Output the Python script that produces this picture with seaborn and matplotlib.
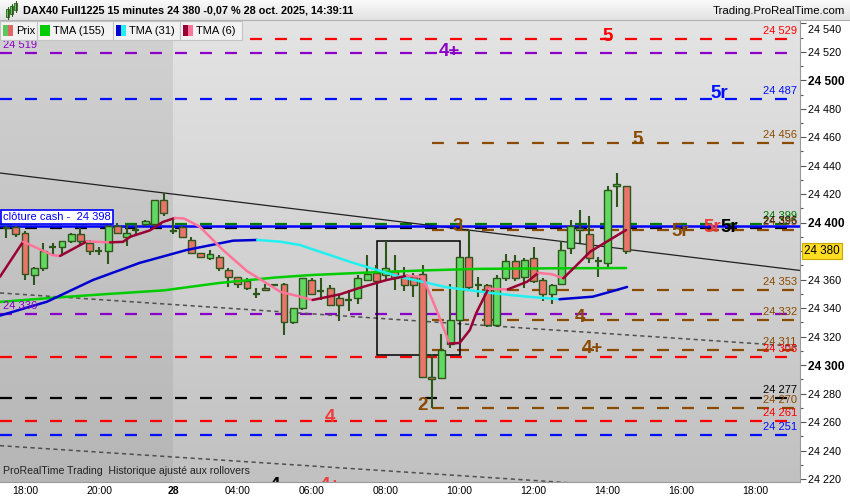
import numpy as np
import pandas as pd
import seaborn as sns
import matplotlib.pyplot as plt
import matplotlib.transforms as mtransforms
from matplotlib.patches import Rectangle

# 15 minute bars, index 0 = 18:00 on the 27th
bar_idx = list(range(-2, 66))
opens = [24396, 24397, 24393, 24363, 24368, 24383, 24383, 24387, 24392, 24386,
         24380, 24380, 24398, 24390, 24395, 24399, 24399, 24416, 24395, 24397,
         24388, 24379, 24375, 24376, 24367, 24362, 24359, 24350, 24354, 24356,
         24357, 24330, 24340, 24360, 24352, 24354, 24347, 24346, 24347, 24360,
         24365, 24363, 24366, 24362, 24362, 24364, 24292, 24291, 24315, 24332,
         24376, 24356, 24356, 24328, 24361, 24373, 24362, 24375, 24360, 24350,
         24357, 24382, 24396, 24392, 24373, 24372, 24425.6, 24426]
highs = [24398, 24398, 24394, 24369, 24386, 24386, 24387, 24393, 24396, 24388,
         24383, 24400, 24400, 24399, 24400, 24402, 24416, 24421, 24402, 24398,
         24390, 24379, 24381, 24377, 24368, 24362, 24361, 24354, 24357, 24357,
         24358, 24340, 24361, 24361, 24361, 24356, 24349, 24353, 24363, 24377,
         24370, 24387, 24377, 24369, 24365, 24370, 24308, 24322, 24357, 24376,
         24395, 24362, 24357, 24363, 24378, 24377, 24375, 24383, 24361, 24357,
         24387, 24402, 24409, 24405, 24376, 24426, 24435, 24426]
lows = [24389, 24390, 24360, 24356, 24366, 24377, 24377, 24386, 24384, 24377,
        24377, 24371, 24392, 24384, 24391, 24398, 24398, 24405, 24392, 24389,
        24378, 24376, 24374, 24366, 24355, 24354, 24353, 24347, 24352, 24356,
        24321, 24329, 24339, 24350, 24346, 24342, 24331, 24338, 24343, 24359,
        24358, 24360, 24353, 24352, 24348, 24291, 24270, 24290, 24312, 24330,
        24352, 24348, 24327, 24327, 24359, 24359, 24354, 24358, 24345, 24343,
        24356, 24378, 24386, 24372, 24362, 24369, 24411, 24378]
closes = [24396, 24392, 24364, 24368, 24380, 24383, 24387, 24392, 24387, 24380,
          24380, 24398, 24393, 24393, 24395, 24401, 24416, 24407, 24394, 24390,
          24379, 24376, 24378, 24368, 24362, 24357, 24354, 24350, 24353, 24356,
          24330, 24340, 24361, 24350, 24352, 24342, 24342, 24346, 24361, 24364,
          24359, 24368, 24361, 24356, 24356, 24292, 24290, 24311, 24332, 24376,
          24355, 24356, 24328, 24361, 24373, 24361, 24374, 24359, 24350, 24356,
          24381, 24398, 24395, 24375, 24373, 24423, 24427, 24380]

tick_pos = [0, 8, 16, 23, 31, 39, 47, 55, 63, 71, 79]
tick_labels = ['18:00', '20:00', '28', '04:00', '06:00', '08:00', '10:00',
               '12:00', '14:00', '16:00', '18:00']

tma155_x = [-2.7, 3, 9, 15, 21, 27, 31, 37, 43, 49, 57, 65]
tma155_y = [24344.4, 24347.3, 24350, 24352.5, 24357.7, 24361.5, 24363.3,
            24365, 24366.5, 24367.6, 24368, 24368.2]

tma31_x = [-2.7, 2.4, 7.35, 12.4, 17.5, 22.5, 25.1, 27.6, 29.7, 35.5, 40.5,
           45.6, 50.6, 54.3, 57.8, 61.4, 63.6, 65.1]
tma31_y = [24334.8, 24344.6, 24359.8, 24371.8, 24380.9, 24387.4, 24387.9,
           24386.7, 24384.4, 24371.8, 24362.1, 24354.7, 24350.5, 24348.1,
           24346.3, 24348.1, 24352.1, 24354.9]

tma6_x = [-2.7, -0.2, 3.0, 3.8, 6.7, 9.2, 10.6, 11.4, 13.5, 14.9, 16.2, 17.2,
          18.9, 21.4, 24.0, 27.6, 31.1, 34.1, 35.9, 39.1, 41.3, 43.0, 44.5,
          45.9, 47.0, 48.1, 48.8, 50.1, 52.2, 54.3, 55.5, 57.0, 58.2, 59.5,
          61.1, 62.9, 65.0]
tma6_y = [24362.1, 24386.7, 24377.2, 24376.7, 24386.9, 24386.2, 24386.6,
          24390.2, 24394.6, 24400.5, 24403.3, 24403.0, 24397.2, 24380.9,
          24366.1, 24351.6, 24345.8, 24349.8, 24353.7, 24359.8, 24362.8,
          24361.9, 24338.8, 24315.2, 24315.6, 24324.7, 24336.7, 24353.6,
          24353.2, 24358.6, 24364.8, 24363.8, 24361.0, 24369.2, 24379.6,
          24386.7, 24394.9]

# horizontal levels
level_prices = [24529, 24519, 24487, 24456, 24399, 24396, 24395, 24353, 24336,
                24332, 24311, 24306, 24277, 24270, 24261, 24251]
level_colors = ['red', 'purple', 'blue', 'brown', 'green', 'black', 'brown',
                'brown', 'purple', 'brown', 'brown', 'red', 'black', 'brown',
                'red', 'blue']
level_start = [None, None, None, 44, None, None, 44, 44, None, 44, 44, None,
               None, 44, None, None]

tag_texts = ['5', '4+', '5r', '5', '3', '5r', '5r', '5r', '4', '4+', '2', '4',
             '4', '4+']
tag_x = [63, 45.9, 75.1, 66.2, 46.8, 70.9, 74.3, 76.1, 60, 61.3, 43, 33, 27, 33]
tag_y = [24530.4, 24519.9, 24490.4, 24458.1, 24397, 24393.5, 24396.3, 24396.3,
         24333.8, 24312, 24271.4, 24263, 24215.5, 24215.5]
tag_colors = ['red', 'purple', 'blue', 'brown', 'brown', 'brown', 'red2',
              'black', 'brown', 'brown', 'brown', 'red2', 'black', 'red2']

cash_close = 24398
last_price = 24380

trend_x = [-2.7, 83.8]
trend_solid = [24434.9, 24366.5]
trend_dash1 = [24350.7, 24313.1]
trend_dash2 = [24243.5, 24206.9]

box_x = [38.05, 47.03]
box_y = [24307, 24387]

palette = {'red': '#ff0000', 'red2': '#f03c3c', 'purple': '#8a00c8',
           'blue': '#0010ff', 'brown': '#8a4a00', 'green': '#007a00',
           'black': '#000000'}

sns.set_theme(style='white')
plt.rcParams['font.family'] = ['Liberation Sans', 'DejaVu Sans']
plt.rcParams['lines.scale_dashes'] = False

fig = plt.figure(figsize=(8.5, 5), dpi=100, facecolor='white')
ax = fig.add_axes([0, 18 / 500, 800 / 850, 462 / 500])
ymin, ymax = 24218, 24542.3
xmin, xmax = -2.7, 83.8

# background, darker for the previous day
def grad(top, bot):
    v = np.linspace(top, bot, 256)[:, None, None] / 255.0
    return np.repeat(np.repeat(v, 2, axis=1), 3, axis=2)

ax.imshow(grad(0xd2, 0xb6), extent=[xmin, 15.97, ymin, ymax], aspect='auto', zorder=0)
ax.imshow(grad(0xe4, 0xc1), extent=[15.97, xmax, ymin, ymax], aspect='auto', zorder=0)

# levels
for p, c, s in zip(level_prices, level_colors, level_start):
    x0 = xmin if s is None else s
    ax.plot([x0, xmax], [p, p], color=palette[c], lw=1.6,
            ls=(0, (8.6, 9.4)), zorder=2)
ax.axhline(cash_close, color='#0000ff', lw=1.8, zorder=2.5)

trans = mtransforms.blended_transform_factory(ax.transAxes, ax.transData)
for p, c in zip(level_prices, level_colors):
    txt = f"{p:,}".replace(',', ' ')
    if c == 'purple':
        ax.annotate(txt, xy=(0.004, p), xycoords=trans, xytext=(0, 5.6),
                    textcoords='offset points', ha='left', va='center',
                    fontsize=8, color=palette[c], zorder=6)
    else:
        ax.annotate(txt, xy=(0.996, p), xycoords=trans, xytext=(0, 5.6),
                    textcoords='offset points', ha='right', va='center',
                    fontsize=8, color=palette[c], zorder=6)

# trend lines and box
ax.plot(trend_x, trend_solid, color='#202020', lw=0.9, zorder=2)
ax.plot(trend_x, trend_dash1, color='#505050', lw=1.1, ls=(0, (3, 2.5)), zorder=2)
ax.plot(trend_x, trend_dash2, color='#505050', lw=1.1, ls=(0, (3, 2.5)), zorder=2)
ax.add_patch(Rectangle((box_x[0], box_y[0]), box_x[1] - box_x[0], box_y[1] - box_y[0],
                       fill=False, ec='black', lw=1.1, zorder=3))

# candles
edge = '#2c561a'
ax.vlines(bar_idx, lows, highs, color=edge, lw=1.5, zorder=3)
for i, o, c in zip(bar_idx, opens, closes):
    if abs(c - o) < 0.5:
        ax.hlines(o, i - 0.38, i + 0.38, color=edge, lw=1.6, zorder=4)
        continue
    ax.bar(i, abs(c - o), bottom=min(o, c), width=0.74,
           color='#62d862' if c > o else '#e8746c', edgecolor=edge, lw=1, zorder=4)

# moving averages
def draw_tma(xs, ys, up_col, down_col):
    df = pd.DataFrame({'x': xs, 'y': ys})
    rising = np.diff(df['y'].values) >= 0
    start = 0
    for k in range(1, len(rising) + 1):
        if k == len(rising) or rising[k] != rising[start]:
            seg = df.iloc[start:k + 1]
            sns.lineplot(data=seg, x='x', y='y', ax=ax, sort=False, estimator=None,
                         color=up_col if rising[start] else down_col, lw=1.8,
                         legend=False, zorder=5)
            start = k

sns.lineplot(x=tma155_x, y=tma155_y, ax=ax, color='#00cc00', lw=1.8, zorder=5)
draw_tma(tma31_x, tma31_y, '#0000d0', '#22f0f0')
draw_tma(tma6_x, tma6_y, '#990033', '#ff7499')

for t, x, y, c in zip(tag_texts, tag_x, tag_y, tag_colors):
    ax.text(x, y, t, color=palette[c], fontsize=13.5, fontweight='bold',
            ha='center', va='center', zorder=6, clip_on=True)

ax.annotate('clôture cash -  24 398', xy=(0, cash_close), xycoords=trans,
            xytext=(2, 2.5), textcoords='offset points', ha='left', va='bottom',
            fontsize=8, color='#0000ff', zorder=7,
            bbox=dict(boxstyle='square,pad=0.18', fc='white', ec='#0000ff', lw=1.2))

ax.text(0.004, 0.012, 'ProRealTime Trading  Historique ajusté aux rollovers',
        transform=ax.transAxes, fontsize=7.6, color='#222222', ha='left',
        va='bottom', zorder=7)

# axes
ax.set_xlim(xmin, xmax)
ax.set_ylim(ymin, ymax)
ax.set_xlabel('')
ax.set_ylabel('')
ax.yaxis.tick_right()
yt = list(range(24220, 24541, 20))
ax.set_yticks(yt, ['' if v == last_price else f"{v:,}".replace(',', ' ') for v in yt])
ax.set_yticks(list(range(24230, 24541, 20)), minor=True)
ax.tick_params(axis='y', which='major', right=True, length=4, width=0.8,
               color='#555555', pad=2, labelsize=7.8, labelcolor='black')
ax.tick_params(axis='y', which='minor', right=True, length=2.5, width=0.8,
               color='#555555')
for lab, v in zip(ax.get_yticklabels(), yt):
    if v % 100 == 0:
        lab.set_fontweight('bold')
        lab.set_fontsize(8.6)
    if v == yt[-1]:
        # top label sits a little lower, as in the terminal
        lab.set_transform(lab.get_transform() +
                          mtransforms.ScaledTranslation(0, -4 / 72, fig.dpi_scale_trans))
ax.set_xticks(tick_pos, tick_labels)
ax.tick_params(axis='x', length=0, pad=3, labelsize=7.5, labelcolor='black')
for lab in ax.get_xticklabels():
    if lab.get_text() == '28':
        lab.set_fontweight('bold')
for side in ['top', 'left']:
    ax.spines[side].set_visible(False)
for side in ['right', 'bottom']:
    ax.spines[side].set_color('#9a9a9a')
    ax.spines[side].set_linewidth(0.8)

ax.annotate(f"{last_price:,}".replace(',', ' '), xy=(1, last_price), xycoords=trans,
            xytext=(3, 0), textcoords='offset points', ha='left', va='center',
            fontsize=8.4, color='black', annotation_clip=False, zorder=8,
            bbox=dict(boxstyle='square,pad=0.15', fc='#ffdd22', ec='#c8a800', lw=0.8))

# chrome: title bar and legend boxes in pixel coordinates
ov = fig.add_axes([0, 0, 1, 1], zorder=20)
ov.set_xlim(0, 850)
ov.set_ylim(500, 0)
ov.axis('off')
ov.patch.set_visible(False)
ov.imshow(grad(0xfa, 0xe2), extent=[0, 850, 20, 0], aspect='auto', zorder=0)
ov.plot([0, 850], [20, 20], color='#b0b0b0', lw=0.8)
for cx, y0, y1 in [(8, 9, 17), (12, 6, 14), (16, 3, 10)]:
    ov.plot([cx, cx], [y0 - 2, y1 + 2], color='#2c561a', lw=0.8)
    ov.add_patch(Rectangle((cx - 1.5, y0), 3, y1 - y0, fc='#62d862', ec='#2c561a', lw=0.6))
ov.text(23, 10.5, 'DAX40 Full1225 15 minutes 24 380 -0,07 % 28 oct. 2025, 14:39:11',
        fontsize=7.8, fontweight='bold', va='center', ha='left', color='black')
ov.text(845, 10.5, 'Trading.ProRealTime.com', fontsize=8.2, va='center',
        ha='right', color='black')

legend_boxes = [(0, 37, 'Prix', ['#5cc85c', '#e06666']),
                (37, 113, 'TMA (155)', ['#00cc00', '#00cc00']),
                (113, 180, 'TMA (31)', ['#0000d0', '#22f0f0']),
                (180, 242, 'TMA (6)', ['#990033', '#ff7499'])]
for x0, x1, name, cols in legend_boxes:
    ov.add_patch(Rectangle((x0, 21), x1 - x0, 19, fc='#f2f2f2', ec='#c4c4c4', lw=0.8))
    ov.add_patch(Rectangle((x0 + 3, 25), 5, 11, fc=cols[0], ec='none'))
    ov.add_patch(Rectangle((x0 + 8, 25), 5, 11, fc=cols[1], ec='none'))
    ov.text(x0 + 16, 30.5, name, fontsize=8, va='center', ha='left', color='black')

fig.savefig('out.png', dpi=100, facecolor='white')
